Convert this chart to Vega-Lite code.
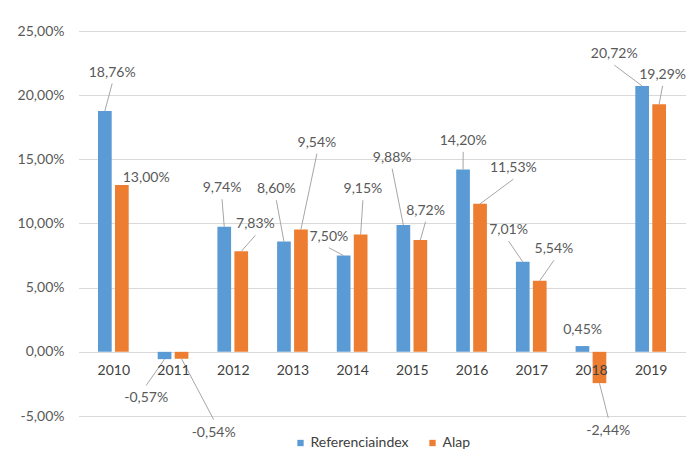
{
  "$schema": "https://vega.github.io/schema/vega-lite/v6.json",
  "width": 607,
  "height": 385,
  "autosize": {"type": "none"},
  "padding": {"left": 78.5, "top": 31, "right": 13.5, "bottom": 48},
  "background": "white",
  "config": {
    "locale": {"number": {"decimal": ",", "thousands": "\u00a0", "grouping": [3], "currency": ["", " Ft"], "minus": "-"}},
    "view": {"stroke": null},
    "font": "Lato",
    "axis": {"labelFont": "Lato", "labelFontSize": 14, "labelColor": "#595959"},
    "legend": {"labelFont": "Lato", "labelFontSize": 14, "labelColor": "#404040"}
  },
  "data": {
    "values": [
      {"year": 2010, "series": "Referenciaindex", "value": 0.1876, "lx": 2009.98, "ly": 0.2176},
      {"year": 2010, "series": "Alap", "value": 0.1300, "lx": 2010.55, "ly": 0.1353},
      {"year": 2011, "series": "Referenciaindex", "value": -0.0057, "lx": 2010.55, "ly": -0.0363},
      {"year": 2011, "series": "Alap", "value": -0.0054, "lx": 2011.68, "ly": -0.0629},
      {"year": 2012, "series": "Referenciaindex", "value": 0.0974, "lx": 2011.82, "ly": 0.1275},
      {"year": 2012, "series": "Alap", "value": 0.0783, "lx": 2012.38, "ly": 0.0994},
      {"year": 2013, "series": "Referenciaindex", "value": 0.0860, "lx": 2012.73, "ly": 0.1267},
      {"year": 2013, "series": "Alap", "value": 0.0954, "lx": 2013.41, "ly": 0.1630},
      {"year": 2014, "series": "Referenciaindex", "value": 0.0750, "lx": 2013.61, "ly": 0.0897},
      {"year": 2014, "series": "Alap", "value": 0.0915, "lx": 2014.18, "ly": 0.1267},
      {"year": 2015, "series": "Referenciaindex", "value": 0.0988, "lx": 2014.67, "ly": 0.1513},
      {"year": 2015, "series": "Alap", "value": 0.0872, "lx": 2015.23, "ly": 0.1100},
      {"year": 2016, "series": "Referenciaindex", "value": 0.1420, "lx": 2015.86, "ly": 0.1644},
      {"year": 2016, "series": "Alap", "value": 0.1153, "lx": 2016.70, "ly": 0.1431},
      {"year": 2017, "series": "Referenciaindex", "value": 0.0701, "lx": 2016.62, "ly": 0.0949},
      {"year": 2017, "series": "Alap", "value": 0.0554, "lx": 2017.38, "ly": 0.0799},
      {"year": 2018, "series": "Referenciaindex", "value": 0.0045, "lx": 2017.86, "ly": 0.0169},
      {"year": 2018, "series": "Alap", "value": -0.0244, "lx": 2018.29, "ly": -0.0616},
      {"year": 2019, "series": "Referenciaindex", "value": 0.2072, "lx": 2018.39, "ly": 0.2320},
      {"year": 2019, "series": "Alap", "value": 0.1929, "lx": 2019.20, "ly": 0.2158}
    ]
  },
  "encoding": {
    "x": {
      "field": "year", "type": "quantitative",
      "scale": {"domain": [2009.5, 2019.5], "nice": false, "zero": false},
      "axis": {
        "title": null, "orient": "bottom", "offset": -64.3, "zindex": 1,
        "values": [2010, 2011, 2012, 2013, 2014, 2015, 2016, 2017, 2018, 2019],
        "format": "d", "domain": false, "ticks": false, "tickSize": 0, "grid": false,
        "labelPadding": 12, "labelOverlap": false, "labelColor": "#404040"
      }
    },
    "y": {
      "field": "value", "type": "quantitative",
      "scale": {"domain": [-0.05, 0.25], "nice": false, "zero": false},
      "axis": {
        "title": null, "values": [-0.05, 0, 0.05, 0.1, 0.15, 0.2, 0.25],
        "format": ".2%", "domain": false, "ticks": false, "tickSize": 0,
        "grid": true, "gridColor": "#D9D9D9", "gridWidth": 1, "labelPadding": 14.5
      }
    }
  },
  "layer": [
    {
      "transform": [{"filter": "datum.series === 'Referenciaindex'"}],
      "mark": {"type": "bar", "orient": "vertical", "width": 13.7, "xOffset": -8.5},
      "encoding": {
        "color": {
          "field": "series", "type": "nominal",
          "scale": {"domain": ["Referenciaindex", "Alap"], "range": ["#5B9BD5", "#ED7D31"]},
          "legend": {
            "title": null, "orient": "none", "legendX": 215, "legendY": 405,
            "direction": "horizontal", "symbolType": "square", "symbolSize": 40,
            "symbolStrokeWidth": 0, "labelOffset": 3, "columnPadding": 16
          }
        }
      }
    },
    {
      "transform": [{"filter": "datum.series === 'Alap'"}],
      "mark": {"type": "bar", "orient": "vertical", "width": 13.7, "xOffset": 8.5},
      "encoding": {
        "color": {"field": "series", "type": "nominal"}
      }
    },
    {
      "transform": [{"filter": "datum.series === 'Referenciaindex' && abs(datum.ly - datum.value) > 0.0135 && datum.ly > datum.value"}],
      "mark": {"type": "rule", "color": "#A6A6A6", "strokeWidth": 1, "xOffset": -8.5, "y2Offset": 11},
      "encoding": {"x2": {"field": "lx"}, "y2": {"field": "ly"}}
    },
    {
      "transform": [{"filter": "datum.series === 'Referenciaindex' && abs(datum.ly - datum.value) > 0.0135 && datum.ly < datum.value"}],
      "mark": {"type": "rule", "color": "#A6A6A6", "strokeWidth": 1, "xOffset": -8.5, "y2Offset": -13},
      "encoding": {"x2": {"field": "lx"}, "y2": {"field": "ly"}}
    },
    {
      "transform": [{"filter": "datum.series === 'Alap' && abs(datum.ly - datum.value) > 0.0135 && datum.ly > datum.value"}],
      "mark": {"type": "rule", "color": "#A6A6A6", "strokeWidth": 1, "xOffset": 8.5, "y2Offset": 11},
      "encoding": {"x2": {"field": "lx"}, "y2": {"field": "ly"}}
    },
    {
      "transform": [{"filter": "datum.series === 'Alap' && abs(datum.ly - datum.value) > 0.0135 && datum.ly < datum.value"}],
      "mark": {"type": "rule", "color": "#A6A6A6", "strokeWidth": 1, "xOffset": 8.5, "y2Offset": -13},
      "encoding": {"x2": {"field": "lx"}, "y2": {"field": "ly"}}
    },
    {
      "mark": {"type": "text", "font": "Lato", "fontSize": 14, "color": "#595959", "align": "center", "baseline": "middle"},
      "encoding": {
        "x": {"field": "lx", "type": "quantitative"},
        "y": {"field": "ly", "type": "quantitative"},
        "text": {"field": "value", "type": "quantitative", "format": ".2%"}
      }
    }
  ]
}
